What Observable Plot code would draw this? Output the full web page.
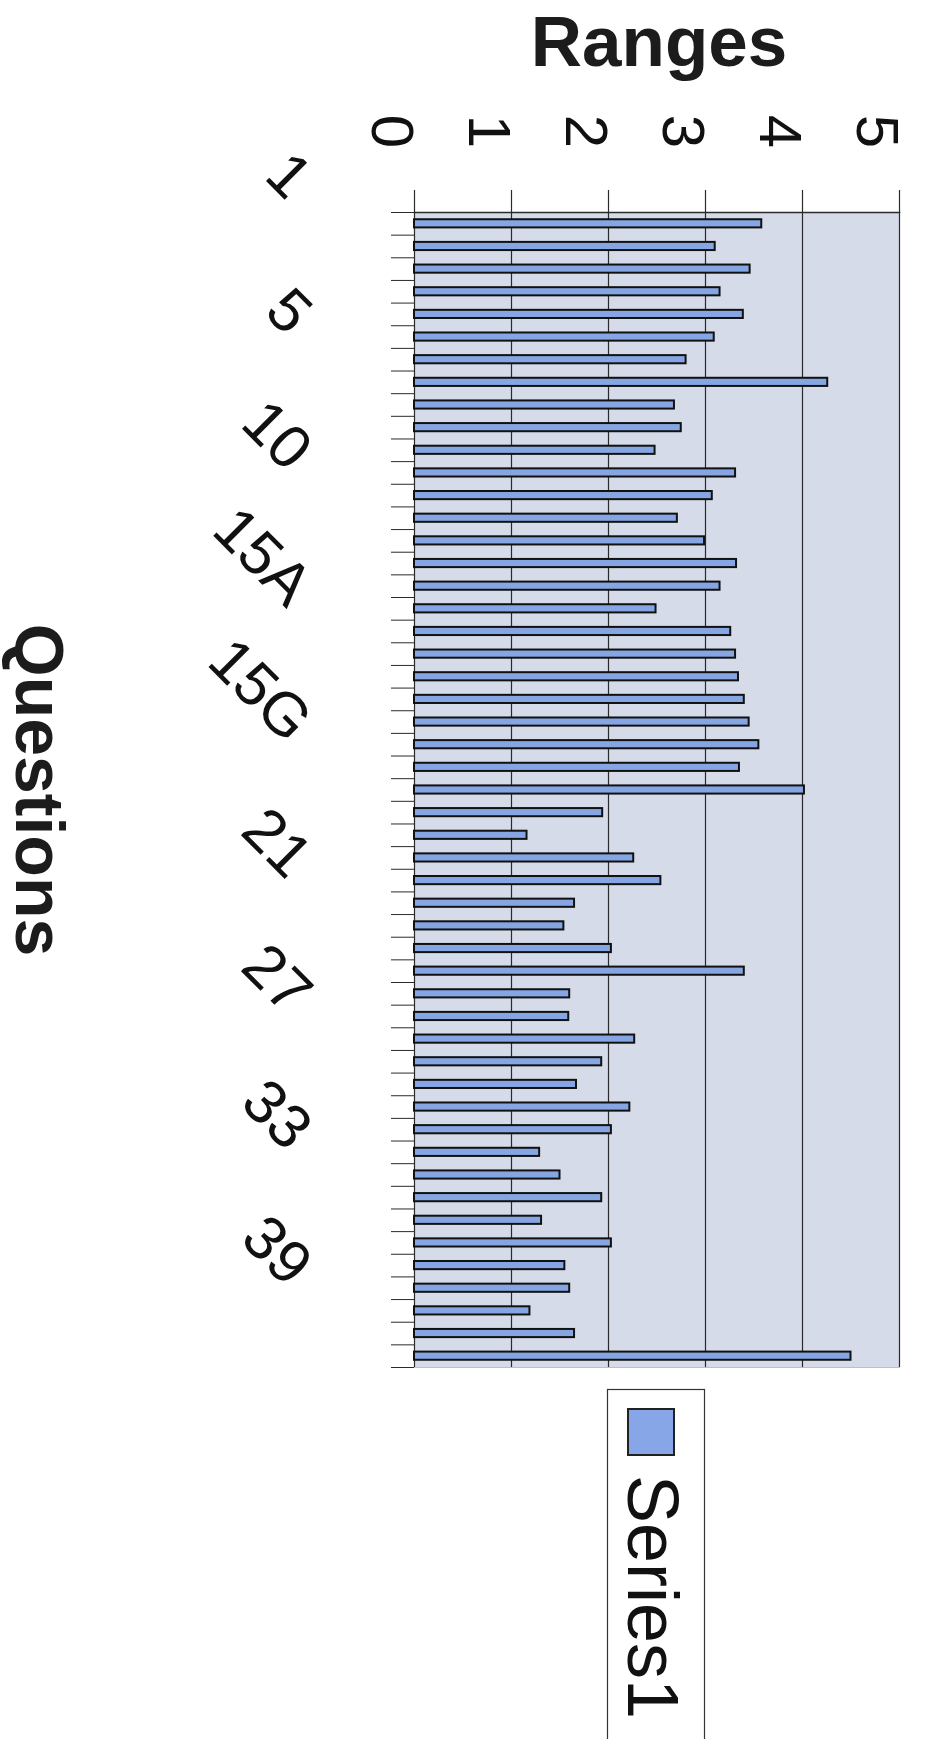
<!DOCTYPE html>
<html>
<head>
<meta charset="utf-8">
<script src="https://cdn.jsdelivr.net/npm/d3@7"></script>
<script src="https://cdn.jsdelivr.net/npm/@observablehq/plot@0.6"></script>
<style>
  html, body { margin: 0; padding: 0; background: #ffffff; }
  #chart { position: relative; width: 937px; height: 1739px; overflow: hidden; }
</style>
</head>
<body>
<div id="chart"></div>
<script>
// ---- data ----
const categories = [
  "1","2","3","3A","3B","4",
  "5","6","7","8","9","9A",
  "10","11","12","13","14","15",
  "15A","15B","15C","15D","15E","15F",
  "15G","16","17","18","19","20",
  "21","22","23","24","25","26",
  "27","28","29","30","31","32",
  "33","34","35","36","37","38",
  "39","40","41"
];
const values = [
  3.58, 3.10, 3.46, 3.15, 3.39, 3.09,
  2.80, 4.26, 2.68, 2.75, 2.48, 3.31,
  3.07, 2.71, 2.99, 3.32, 3.15, 2.49,
  3.26, 3.31, 3.34, 3.40, 3.45, 3.55,
  3.35, 4.02, 1.94, 1.16, 2.26, 2.54,
  1.65, 1.54, 2.03, 3.40, 1.60, 1.59,
  2.27, 1.93, 1.67, 2.22, 2.03, 1.29,
  1.50, 1.93, 1.31, 2.03, 1.55, 1.60,
  1.19, 1.65, 4.50
];
const shownLabels = ["1","5","10","15A","15G","21","27","33","39"];
const xTicks = [0, 1, 2, 3, 4, 5];
const seriesName = "Series1";
const title = "Ranges";
const yTitle = "Questions";

// ---- layout ----
const W = 937, H = 1739;
const mL = 414, mR = 38, mT = 212, mB = 372;
const step = (H - mT - mB) / categories.length;
const font = "'Liberation Sans', Arial, Helvetica, sans-serif";

const rows = categories.map((q, i) => ({q, v: values[i]}));

const chart = Plot.plot({
  width: W,
  height: H,
  marginLeft: mL,
  marginRight: mR,
  marginTop: mT,
  marginBottom: mB,
  style: {fontFamily: font, background: "#ffffff", color: "#111"},
  x: {domain: [0, 5], axis: null},
  y: {domain: categories, paddingInner: 0.64, paddingOuter: 0.32, axis: null},
  marks: [
    Plot.frame({fill: "#d5dbe8", stroke: "#b9bfcc"}),
    Plot.gridX({ticks: xTicks, stroke: "#2a2a2a", strokeOpacity: 1, strokeWidth: 1.2}),
    Plot.axisX({anchor: "top", ticks: xTicks, tickSize: 23, fill: "none", stroke: "#2a2a2a", strokeWidth: 1.2}),
    Plot.axisY({anchor: "left", ticks: categories, tickSize: 23, fill: "none", stroke: "#2a2a2a", dy: -step / 2}),
    Plot.axisY({anchor: "left", ticks: [categories[categories.length - 1]], tickSize: 23, fill: "none", stroke: "#2a2a2a", dy: step / 2}),
    Plot.frame({anchor: "top", stroke: "#2a2a2a", strokeWidth: 1.4}),
    Plot.barX(rows, {x: "v", y: "q", fill: "#86a6e3", stroke: "#111", strokeWidth: 2}),
    Plot.text(xTicks, {x: d => d, text: d => String(d), frameAnchor: "top", dy: -81, rotate: 90,
      fontSize: 60, fill: "#111"}),
    Plot.text(shownLabels, {y: d => d, text: d => d, frameAnchor: "left", textAnchor: "end",
      rotate: 45, dx: -114, dy: -36, fontSize: 61, fill: "#111"})
  ]
});

const root = document.getElementById("chart");
chart.style.position = "absolute";
chart.style.left = "0px";
chart.style.top = "0px";
root.appendChild(chart);

// title, axis title and legend
const svg = d3.select(chart);
svg.append("text")
  .attr("x", 659).attr("y", 66)
  .attr("text-anchor", "middle")
  .attr("font-family", font)
  .attr("font-weight", "bold")
  .attr("font-size", 71)
  .attr("fill", "#1c1c1c")
  .text(title);

svg.append("text")
  .attr("transform", "translate(16,790) rotate(90)")
  .attr("text-anchor", "middle")
  .attr("font-family", font)
  .attr("font-weight", "bold")
  .attr("font-size", 68)
  .attr("fill", "#1c1c1c")
  .text(yTitle);

const lg = svg.append("g");
lg.append("rect")
  .attr("x", 607.5).attr("y", 1389.5).attr("width", 97).attr("height", 380)
  .attr("fill", "#ffffff").attr("stroke", "#333").attr("stroke-width", 1.2);
lg.append("rect")
  .attr("x", 628).attr("y", 1409).attr("width", 46).attr("height", 46)
  .attr("fill", "#86a6e8").attr("stroke", "#222").attr("stroke-width", 2);
lg.append("text")
  .attr("transform", "translate(628,1475) rotate(90)")
  .attr("text-anchor", "start")
  .attr("font-family", font)
  .attr("font-size", 72)
  .attr("fill", "#111")
  .text(seriesName);
</script>
</body>
</html>
